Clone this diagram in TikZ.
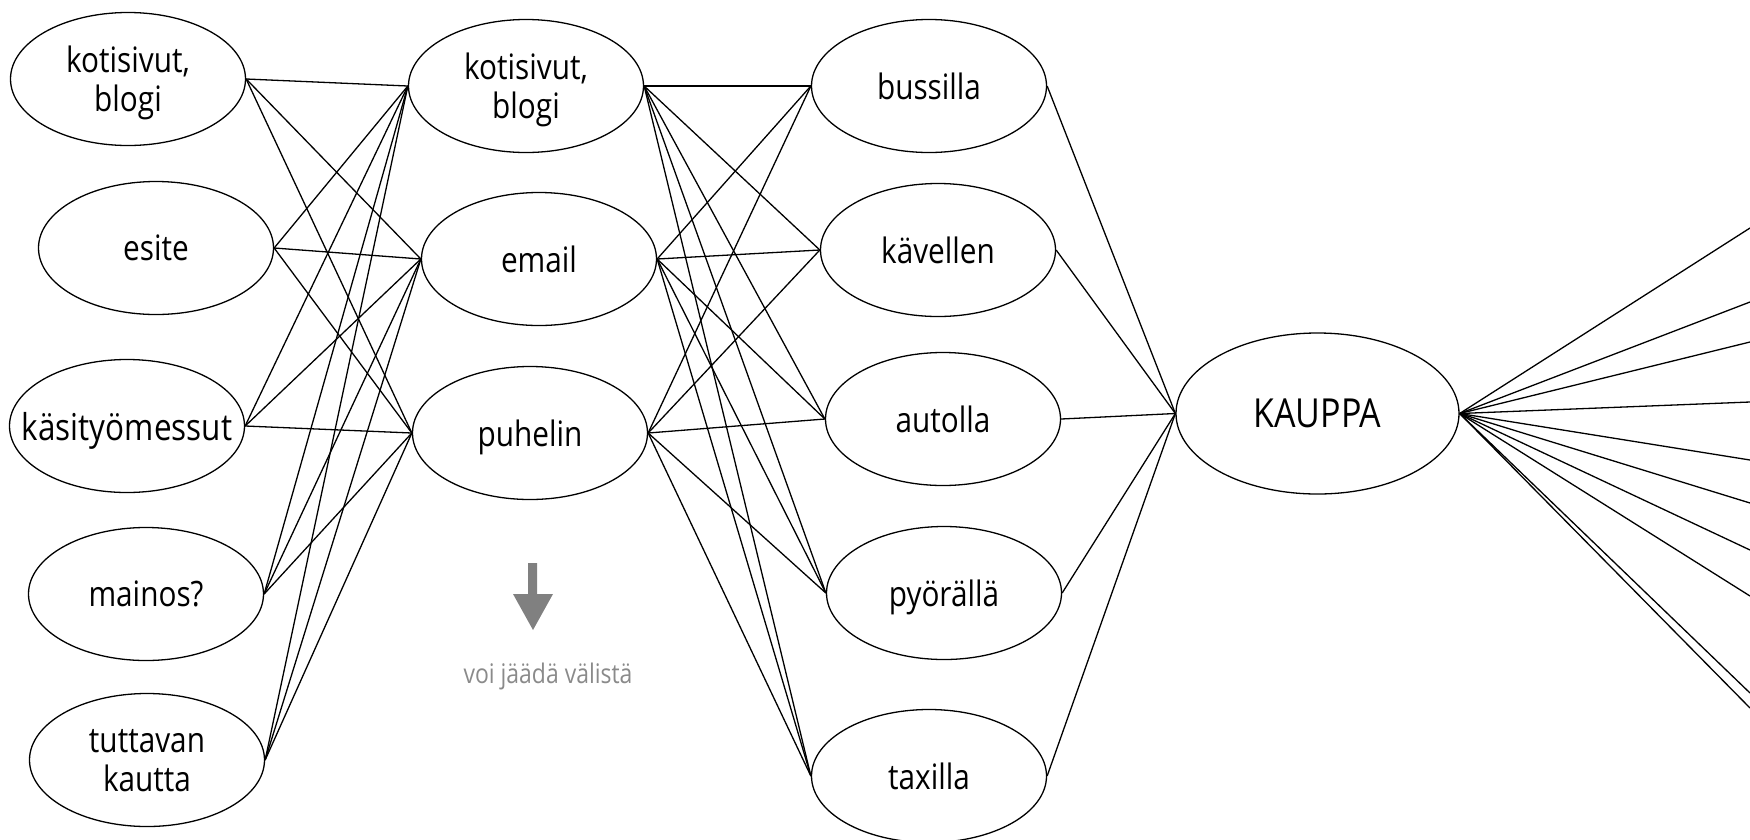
\documentclass[tikz,border=0pt]{standalone}
\usepackage{fontspec}
\setmainfont[FakeStretch=0.85]{Open Sans}
\usetikzlibrary{shapes.geometric}
\definecolor{arrowgray}{HTML}{808080}
\definecolor{notegray}{HTML}{8A8A8A}
\begin{document}
\begin{tikzpicture}[x=1pt,y=-1pt,
  oval/.style={ellipse, draw, line width=1.3pt, minimum width=235pt, minimum height=133pt,
    inner sep=0pt, align=center, text depth=0pt, font=\fontsize{35}{39}\selectfont},
  bigoval/.style={oval, minimum width=283pt, minimum height=161pt, font=\fontsize{40}{44}\selectfont},
  link/.style={line width=1.3pt},
  note/.style={anchor=base, inner sep=0pt, text=notegray, font=\fontsize{27}{30}\selectfont}]
\useasboundingbox (0,0) rectangle (1750,839);

% left column
\node[oval] (L1) at (128,79) {kotisivut,\\blogi};
\node[oval] (L2) at (156,248) {esite};
\node[oval] (L3) at (127,426) {\fontsize{37}{41}\selectfont\makebox[0pt]{käsityömessut}};
\node[oval] (L4) at (146,594) {mainos?};
\node[oval] (L5) at (147,760) {tuttavan\\kautta};

% middle column
\node[oval] (M1) at (526,86) {kotisivut,\\blogi};
\node[oval] (M2) at (539,259) {email};
\node[oval] (M3) at (530,433) {puhelin};

% transport column
\node[oval] (R1) at (929,86) {bussilla};
\node[oval] (R2) at (938,250) {kävellen};
\node[oval] (R3) at (943,419) {autolla};
\node[oval] (R4) at (944,593) {pyörällä};
\node[oval] (R5) at (929,776) {taxilla};

% shop
\node[bigoval] (K) at (1317.5,413.5) {KAUPPA};

% connectors
\foreach \i in {1,...,5}
  \foreach \j in {1,2,3}
    \draw[link] (L\i.east) -- (M\j.west);
\foreach \i in {1,2,3}
  \foreach \j in {1,...,5}
    \draw[link] (M\i.east) -- (R\j.west);
\foreach \j in {1,...,5}
  \draw[link] (R\j.east) -- (K.west);

% fan to the right edge
\foreach \yy [count=\n] in {228,302,342,402,460,503,550,596,693,708}{
  \coordinate (f\n) at (1750,\yy);
  \draw[link] (K.east) -- (f\n);
}

% grey arrow and note
\fill[arrowgray] (528,563) -- (537,563) -- (537,594) -- (553,594) -- (533,630)
  -- (513,594) -- (528,594) -- cycle;
\node[note] (nt) at (548,683) {voi jäädä välistä};
\end{tikzpicture}
\end{document}
